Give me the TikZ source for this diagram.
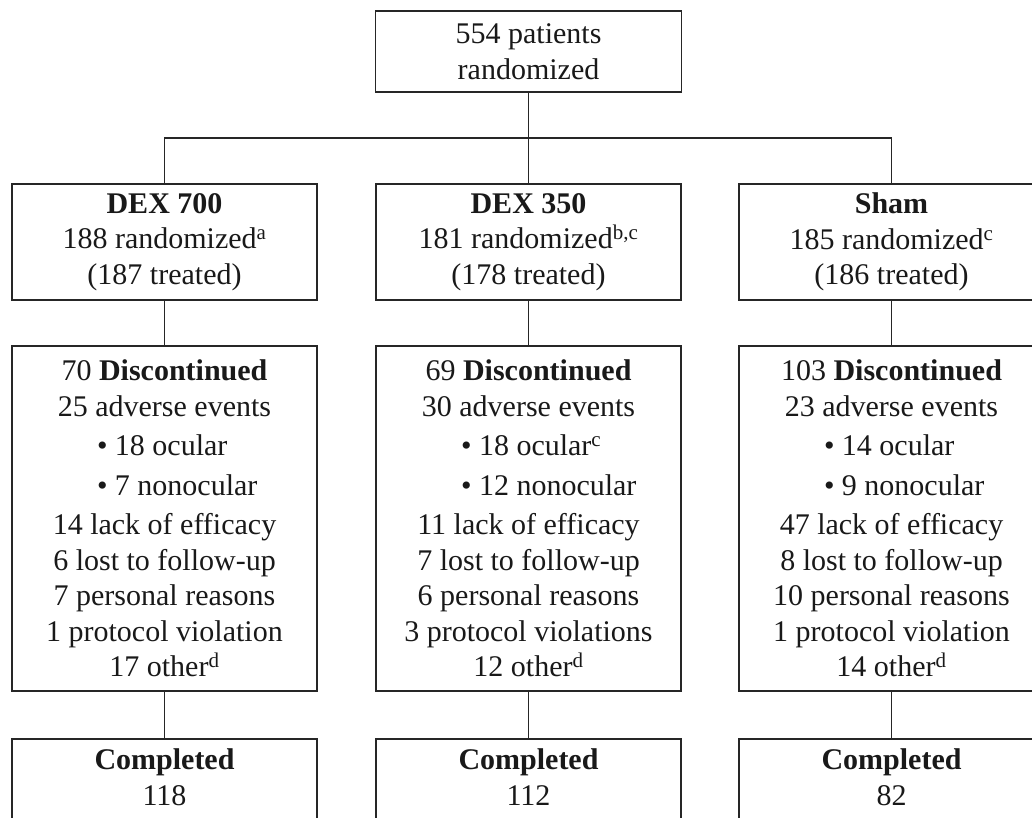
\documentclass[tikz,border=0pt]{standalone}
\usepackage{fontspec}
\setmainfont{Liberation Serif}
\newcommand{\blt}[1]{\hspace*{28pt}\makebox[163pt][l]{\textbullet\ #1}}
\begin{document}
\begin{tikzpicture}[x=1pt,y=-1pt,
  box/.style={draw=black!85, line width=1.8pt, inner sep=0pt, align=center,
    text=black!90, font=\fontsize{30}{35.5}\selectfont},
  txt/.style={inner sep=0pt, align=center, text=black!90, font=\fontsize{30}{35.5}\selectfont},
  conn/.style={draw=black!85, line width=1.8pt}]
\useasboundingbox (0,0) rectangle (1032,817);
\clip (0,0) rectangle (1032,817);
\fill[white] (0,0) rectangle (1032,817);

\node[box, minimum width=306pt, minimum height=81pt] (top) at (528.5,51.5) {554 patients\\randomized};

\node[box, minimum width=305pt, minimum height=116pt] (a1) at (164.5,242) {\textbf{DEX 700}\\188 randomized\textsuperscript{a}\\(187 treated)};
\node[box, minimum width=305pt, minimum height=116pt] (b1) at (528.5,242) {\textbf{DEX 350}\\181 randomized\textsuperscript{b,c}\\(178 treated)};
\node[box, minimum width=305pt, minimum height=116pt] (c1) at (891.5,242) {\textbf{Sham}\\185 randomized\textsuperscript{c}\\(186 treated)};

\node[box, minimum width=305pt, minimum height=345pt] (a2) at (164.5,518.5) {70 \textbf{Discontinued}\\25 adverse events\\[4pt]\blt{18 ocular}\\[4pt]\blt{7 nonocular}\\[4pt]14 lack of efficacy\\6 lost to follow-up\\7 personal reasons\\1 protocol violation\\17 other\textsuperscript{d}};
\node[box, minimum width=305pt, minimum height=345pt] (b2) at (528.5,518.5) {69 \textbf{Discontinued}\\30 adverse events\\[4pt]\blt{18 ocular\textsuperscript{c}}\\[4pt]\blt{12 nonocular}\\[4pt]11 lack of efficacy\\7 lost to follow-up\\6 personal reasons\\3 protocol violations\\12 other\textsuperscript{d}};
\node[box, minimum width=305pt, minimum height=345pt] (c2) at (891.5,518.5) {103 \textbf{Discontinued}\\23 adverse events\\[4pt]\blt{14 ocular}\\[4pt]\blt{9 nonocular}\\[4pt]47 lack of efficacy\\8 lost to follow-up\\10 personal reasons\\1 protocol violation\\14 other\textsuperscript{d}};

\node[box, minimum width=305pt, minimum height=100pt, anchor=north] (a3) at (164.5,738) {};
\node[box, minimum width=305pt, minimum height=100pt, anchor=north] (b3) at (528.5,738) {};
\node[box, minimum width=305pt, minimum height=100pt, anchor=north] (c3) at (891.5,738) {};
\node[txt] (a3t) at (164.5,777) {\textbf{Completed}\\118};
\node[txt] (b3t) at (528.5,777) {\textbf{Completed}\\112};
\node[txt] (c3t) at (891.5,777) {\textbf{Completed}\\82};

\draw[conn] (top.south) -- ++(0,45) coordinate (j);
\draw[conn] (a1.north) |- (j) -| (c1.north);
\draw[conn] (j) -- (b1.north);
\foreach \n in {a,b,c}{
  \draw[conn] (\n1.south) -- (\n2.north);
  \draw[conn] (\n2.south) -- (\n3.north);
}
\end{tikzpicture}
\end{document}
